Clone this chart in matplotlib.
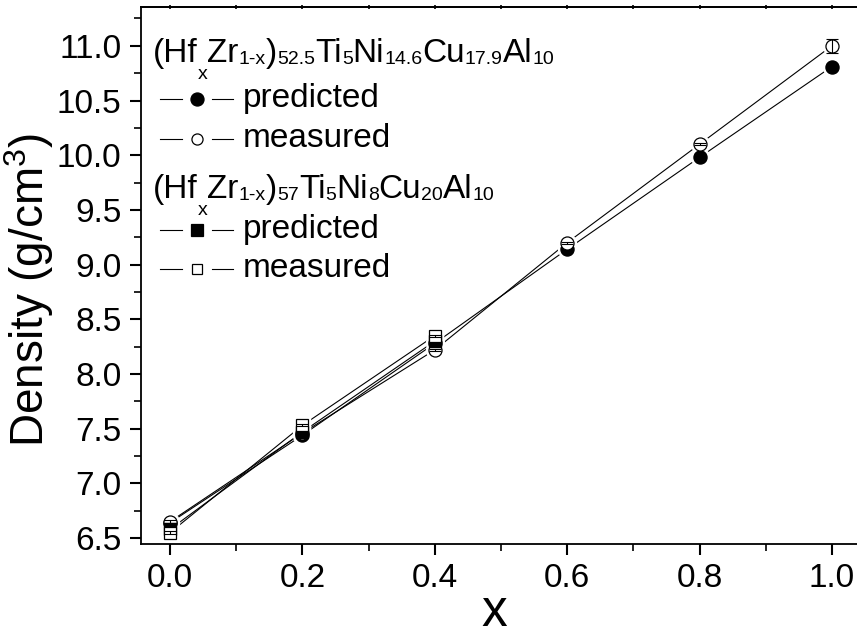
import matplotlib
matplotlib.use("Agg")
import matplotlib.pyplot as plt
from matplotlib.ticker import MultipleLocator, FormatStrFormatter
from matplotlib.lines import Line2D

plt.rcParams['font.family'] = ['Liberation Sans', 'DejaVu Sans']
plt.rcParams['mathtext.fontset'] = 'custom'
plt.rcParams['mathtext.rm'] = 'Liberation Sans'
plt.rcParams['mathtext.it'] = 'Liberation Sans'
plt.rcParams['mathtext.bf'] = 'Liberation Sans:bold'

# ---- data ----
x_a = [0.0, 0.2, 0.4, 0.6, 0.8, 1.0]
pred_a = [6.64, 7.44, 8.28, 9.14, 9.98, 10.81]
meas_a = [6.65, 7.46, 8.22, 9.20, 10.10, 11.00]
err_a = [0.01, 0.01, 0.01, 0.01, 0.01, 0.064]

x_b = [0.0, 0.2, 0.4]
pred_b = [6.58, 7.47, 8.30]
meas_b = [6.55, 7.53, 8.35]
err_b = [0.01, 0.01, 0.01]

x_ticks = [0.0, 0.2, 0.4, 0.6, 0.8, 1.0]
y_ticks = [6.5, 7.0, 7.5, 8.0, 8.5, 9.0, 9.5, 10.0, 10.5, 11.0]

labels = ['predicted', 'measured']
# formula pieces: (text, kind) ; kind: main / sub / low (lower subscript)
formula_a = [('(Hf', 'main'), ('x', 'low'), ('Zr', 'main'), ('1-x', 'sub'), (')', 'main'),
             ('52.5', 'sub'), ('Ti', 'main'), ('5', 'sub'), ('Ni', 'main'), ('14.6', 'sub'),
             ('Cu', 'main'), ('17.9', 'sub'), ('Al', 'main'), ('10', 'sub')]
formula_b = [('(Hf', 'main'), ('x', 'low'), ('Zr', 'main'), ('1-x', 'sub'), (')', 'main'),
             ('57', 'sub'), ('Ti', 'main'), ('5', 'sub'), ('Ni', 'main'), ('8', 'sub'),
             ('Cu', 'main'), ('20', 'sub'), ('Al', 'main'), ('10', 'sub')]

W, H = 857, 638
fig = plt.figure(figsize=(W / 100, H / 100), dpi=100)
ax = fig.add_axes([141 / W, 1 - 544 / H, (861 - 141) / W, (544 - 7) / H])

lw = 0.8
ms_c, ms_s = 9.4, 8.3

def series(x, y, marker, ms):
    ax.plot(x, y, '-', color='black', lw=lw, zorder=2)
    ax.plot(x, y, linestyle='none', marker=marker, ms=ms + 3.5, mfc='white',
            mec='white', zorder=2.5)

series(x_a, pred_a, 'o', ms_c)
series(x_a, meas_a, 'o', ms_c)
series(x_b, pred_b, 's', ms_s)
series(x_b, meas_b, 's', ms_s)

ax.plot(x_a, pred_a, linestyle='none', marker='o', ms=ms_c, mfc='black', mec='black', zorder=3)
ax.plot(x_a, meas_a, linestyle='none', marker='o', ms=ms_c, mfc='white', mec='black',
        mew=0.9, zorder=3.1)
ax.plot(x_b, pred_b, linestyle='none', marker='s', ms=ms_s, mfc='black', mec='black', zorder=3.2)
ax.plot(x_b, meas_b, linestyle='none', marker='s', ms=ms_s, mfc='white', mec='black',
        mew=0.9, zorder=3.3)
ax.errorbar(x_a, meas_a, yerr=err_a, fmt='none', ecolor='black', elinewidth=0.8,
            capsize=4.3, capthick=0.8, zorder=4)
ax.errorbar(x_b, meas_b, yerr=err_b, fmt='none', ecolor='black', elinewidth=0.8,
            capsize=4.0, capthick=0.8, zorder=4)

ax.set_xlim(-0.044, 1.044)
ax.set_ylim(6.445, 11.355)

ax.set_xticks(x_ticks)
ax.set_yticks(y_ticks)
ax.xaxis.set_minor_locator(MultipleLocator(0.1))
ax.yaxis.set_minor_locator(MultipleLocator(0.25))
ax.xaxis.set_major_formatter(FormatStrFormatter('%.1f'))
ax.yaxis.set_major_formatter(FormatStrFormatter('%.1f'))

ax.tick_params(axis='both', which='major', direction='out', length=8, width=1.5,
               labelsize=24, pad=6)
ax.tick_params(axis='both', which='minor', direction='out', length=5, width=1.2)
for s in ax.spines.values():
    s.set_linewidth(1.3)

sec = ax.secondary_xaxis('top')
sec.set_xticks(x_ticks)
sec.xaxis.set_minor_locator(MultipleLocator(0.1))
sec.tick_params(which='both', direction='inout', length=3, width=1.2, labeltop=False)
sec.spines['top'].set_linewidth(1.3)

ax.set_xlabel('x', fontsize=37)
ax.xaxis.label.set_verticalalignment('baseline')
ax.xaxis.set_label_coords((494 - 141) / 720, -(626 - 544) / 537)
ax.set_ylabel(r'Density (g/cm$^\mathregular{3}$)', fontsize=33)
ax.yaxis.set_label_coords((56 - 141) / 720, 1 - (290 - 7) / 537)

# ---- legend (drawn manually, Origin style) ----
renderer = fig.canvas.get_renderer()

def draw_formula(pieces, x0, base):
    x = x0
    for txt, kind in pieces:
        size, dy = {'main': (24, 0), 'sub': (14, 2), 'low': (14, 17)}[kind]
        t = fig.text(x / W, 1 - (base + dy) / H, txt, fontsize=size,
                     va='baseline', ha='left')
        x = t.get_window_extent(renderer).x1

def draw_entry(marker, filled, ms, label, base):
    yc = 1 - (base - 8) / H
    fig.add_artist(Line2D([160 / W, 182 / W], [yc, yc], color='black', lw=lw))
    fig.add_artist(Line2D([212 / W, 233 / W], [yc, yc], color='black', lw=lw))
    fig.add_artist(Line2D([197 / W], [yc], linestyle='none', marker=marker, ms=ms,
                          mfc='black' if filled else 'white', mec='black', mew=0.9))
    fig.text(243 / W, 1 - base / H, label, fontsize=24, va='baseline', ha='left')

draw_formula(formula_a, 153, 62)
draw_entry('o', True, ms_c, labels[0], 107)
draw_entry('o', False, ms_c * 0.85, labels[1], 147)
draw_formula(formula_b, 153, 198)
draw_entry('s', True, ms_s, labels[0], 238)
draw_entry('s', False, ms_s * 0.85, labels[1], 277)

fig.savefig('out.png', dpi=100)
